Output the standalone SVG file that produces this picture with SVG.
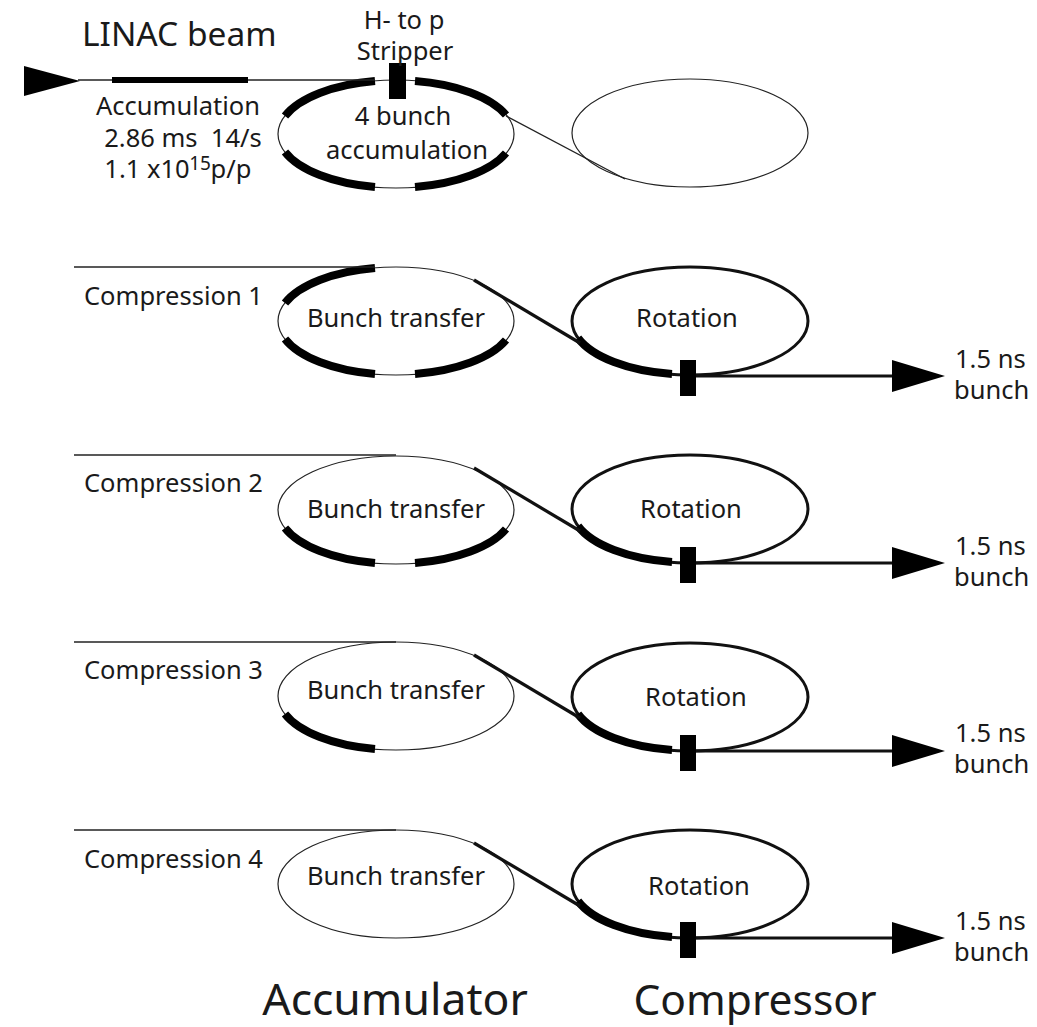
<svg xmlns="http://www.w3.org/2000/svg" width="1037" height="1027" viewBox="0 0 1037 1027">
<style>
text{font-family:"Noto Sans","Open Sans","Liberation Sans",sans-serif;fill:#1a1a1a;font-size:25.5px;text-anchor:middle;white-space:pre}
.s{text-anchor:start}
.big{font-size:43px}
.e{fill:#fff;stroke:#222;stroke-width:1.2}
.c{fill:#fff;stroke:#111;stroke-width:3}
.k{fill:none;stroke:#000;stroke-width:8}
.k2{fill:none;stroke:#000;stroke-width:6}
.t{fill:none;stroke:#222;stroke-width:1.4}
.d{fill:none;stroke:#111;stroke-width:3.2}
.o{fill:none;stroke:#111;stroke-width:3.2;marker-end:url(#ah)}
.b{fill:#000}
</style>
<defs>
<marker id="ah" markerUnits="userSpaceOnUse" markerWidth="54" markerHeight="32" refX="1" refY="16" orient="auto"><path d="M0 0L53 16L0 32Z" fill="#000"/></marker>
</defs>
<rect width="1037" height="1027" fill="#fff"/>

<g id="accumulator-0">
<ellipse class="e" cx="396" cy="134" rx="118" ry="54"/>
<path class="k" d="M285 116A118 54 0 0 1 375 81"/>
<path class="k" d="M415 81A118 54 0 0 1 506 115"/>
<path class="k" d="M285 152A118 54 0 0 0 375 187"/>
<path class="k" d="M415 187A118 54 0 0 0 506 153"/>
<text x="403" y="125">4 bunch</text>
<text x="407" y="159">accumulation</text>
</g>
<g id="stripper-0"><rect class="b" x="389" y="63" width="17" height="36"/>
<text x="404" y="29">H- to p</text><text x="405" y="60">Stripper</text></g>
<g id="compressor-0"><ellipse class="e" cx="690" cy="133" rx="118" ry="54"/></g>
<g id="linac-labels">
<text class="s" x="82" y="46" style="font-size:33.5px">LINAC beam</text>
<text x="178" y="115">Accumulation</text>
<text x="183" y="147">2.86 ms  14/s</text>
<text x="147" y="178">1.1 x10</text>
<text x="200" y="170" style="font-size:19px">15</text>
<text x="231" y="178">p/p</text>
</g>

<g id="accumulator-1">
<ellipse class="e" cx="396" cy="321" rx="118" ry="54"/>
<path class="k" d="M285 303A118 54 0 0 1 375 268"/>
<path class="k" d="M285 339A118 54 0 0 0 375 374"/>
<path class="k" d="M415 374A118 54 0 0 0 506 340"/>
<text x="396" y="327">Bunch transfer</text>
</g>
<g id="compressor-1">
<ellipse class="c" cx="690" cy="321" rx="118" ry="54"/>
<path class="k" d="M578 338A118 54 0 0 0 672 374"/>
<text x="687" y="327">Rotation</text>
<rect class="b" x="680" y="360" width="16" height="36"/>
<text class="s" x="955" y="368">1.5 ns</text><text class="s" x="954" y="399">bunch</text>
</g>
<text class="s" x="84" y="305">Compression 1</text>

<g id="accumulator-2">
<ellipse class="e" cx="396" cy="510" rx="118" ry="54"/>
<path class="k" d="M285 528A118 54 0 0 0 375 563"/>
<path class="k" d="M415 563A118 54 0 0 0 506 529"/>
<text x="396" y="518">Bunch transfer</text>
</g>
<g id="compressor-2">
<ellipse class="c" cx="690" cy="509" rx="118" ry="54"/>
<path class="k" d="M578 526A118 54 0 0 0 672 562"/>
<text x="691" y="518">Rotation</text>
<rect class="b" x="680" y="547" width="16" height="36"/>
<text class="s" x="955" y="555">1.5 ns</text><text class="s" x="954" y="586">bunch</text>
</g>
<text class="s" x="84" y="492">Compression 2</text>

<g id="accumulator-3">
<ellipse class="e" cx="396" cy="696" rx="118" ry="54"/>
<path class="k" d="M285 714A118 54 0 0 0 375 749"/>
<text x="396" y="699">Bunch transfer</text>
</g>
<g id="compressor-3">
<ellipse class="c" cx="690" cy="697" rx="118" ry="54"/>
<path class="k" d="M578 714A118 54 0 0 0 672 750"/>
<text x="696" y="706">Rotation</text>
<rect class="b" x="680" y="735" width="16" height="36"/>
<text class="s" x="955" y="742">1.5 ns</text><text class="s" x="954" y="773">bunch</text>
</g>
<text class="s" x="84" y="679">Compression 3</text>

<g id="accumulator-4">
<ellipse class="e" cx="396" cy="884" rx="118" ry="54"/>
<text x="396" y="885">Bunch transfer</text>
</g>
<g id="compressor-4">
<ellipse class="c" cx="690" cy="884" rx="118" ry="54"/>
<path class="k" d="M578 901A118 54 0 0 0 672 937"/>
<text x="699" y="895">Rotation</text>
<rect class="b" x="680" y="922" width="16" height="36"/>
<text class="s" x="955" y="930">1.5 ns</text><text class="s" x="954" y="961">bunch</text>
</g>
<text class="s" x="84" y="868">Compression 4</text>

<g id="connectors">
<path d="M24 66L80 81L24 96Z" class="b"/>
<path class="t" d="M78 80H375"/>
<path class="k2" d="M112 80H248"/>
<path class="t" d="M506 116L625 179"/>
<path class="t" d="M74 267H375"/>
<path class="d" d="M474 280L580 343"/>
<path class="o" d="M696 376H893"/>
<path class="t" d="M74 455H396"/>
<path class="d" d="M474 468L580 531"/>
<path class="o" d="M696 563H893"/>
<path class="t" d="M74 642H396"/>
<path class="d" d="M474 655L580 718"/>
<path class="o" d="M696 751H893"/>
<path class="t" d="M74 830H396"/>
<path class="d" d="M474 843L580 906"/>
<path class="o" d="M696 938H893"/>
</g>
<g id="titles">
<text class="big" x="395" y="1015" style="font-size:44.5px">Accumulator</text>
<text class="big" x="755" y="1015" style="font-size:42.5px">Compressor</text>
</g>
</svg>
